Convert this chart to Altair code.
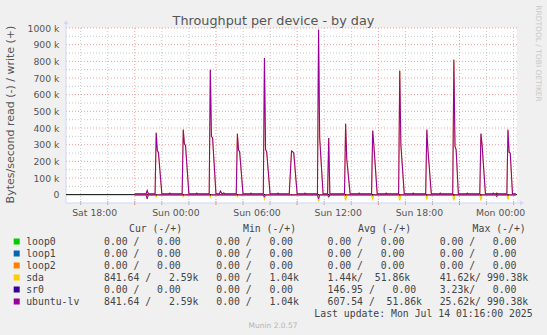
import altair as alt
import pandas as pd

DAY = {"Sat": "2025-07-12", "Sun": "2025-07-13", "Mon": "2025-07-14"}


def iso(s):
    d, hm = s.split()
    return f"{DAY[d]}T{hm}:00"


# ---------------- series data (k bytes/s) ----------------
# write traffic: ubuntu-lv and sda show the same write curve
write_times = [
    "Sat 21:00", "Sat 21:50", "Sat 21:55", "Sat 22:00",
    "Sat 22:30", "Sat 22:35", "Sat 22:40", "Sat 22:45", "Sat 23:00",
    "Sat 23:30", "Sat 23:35", "Sat 23:40",
    "Sun 00:30", "Sun 00:35", "Sun 00:40", "Sun 00:45", "Sun 01:00",
    "Sun 01:30", "Sun 01:35", "Sun 01:40",
    "Sun 02:30", "Sun 02:35", "Sun 02:40", "Sun 02:45", "Sun 03:00",
    "Sun 03:15", "Sun 03:20", "Sun 03:25", "Sun 03:30", "Sun 03:35", "Sun 03:40",
    "Sun 04:30", "Sun 04:35", "Sun 04:40", "Sun 04:45", "Sun 05:00",
    "Sun 05:30", "Sun 05:35", "Sun 05:40",
    "Sun 06:30", "Sun 06:35", "Sun 06:40", "Sun 06:45", "Sun 07:00",
    "Sun 07:30", "Sun 07:35", "Sun 07:40",
    "Sun 08:25", "Sun 08:35", "Sun 08:40", "Sun 08:45", "Sun 09:00",
    "Sun 09:30", "Sun 09:35", "Sun 09:40",
    "Sun 10:30", "Sun 10:35", "Sun 10:40", "Sun 10:55",
    "Sun 11:15", "Sun 11:20", "Sun 11:25",
    "Sun 12:30", "Sun 12:35", "Sun 12:40", "Sun 12:55",
    "Sun 13:30", "Sun 13:35", "Sun 13:40",
    "Sun 14:30", "Sun 14:35", "Sun 14:40", "Sun 14:55",
    "Sun 15:30", "Sun 15:35", "Sun 15:40",
    "Sun 16:30", "Sun 16:35", "Sun 16:40", "Sun 16:55",
    "Sun 17:30", "Sun 17:35", "Sun 17:40",
    "Sun 18:30", "Sun 18:35", "Sun 18:40", "Sun 18:55",
    "Sun 19:30", "Sun 19:35", "Sun 19:40",
    "Sun 20:30", "Sun 20:35", "Sun 20:40", "Sun 20:45", "Sun 20:55",
    "Sun 21:30", "Sun 21:35", "Sun 21:40",
    "Sun 22:30", "Sun 22:35", "Sun 22:40", "Sun 22:55",
    "Sun 23:25", "Sun 23:30", "Sun 23:35", "Sun 23:40", "Sun 23:45", "Sun 23:50",
    "Mon 00:30", "Mon 00:35", "Mon 00:40", "Mon 00:45", "Mon 00:55",
    "Mon 01:10",
]
write_k = [
    5, 5, 25, 5,
    5, 372, 265, 252, 5,
    5, 9, 5,
    5, 390, 305, 295, 5,
    5, 9, 5,
    5, 750, 350, 340, 5,
    5, 22, 8, 6, 10, 5,
    5, 366, 268, 258, 5,
    5, 9, 5,
    5, 820, 272, 255, 5,
    5, 9, 5,
    5, 262, 258, 250, 5,
    5, 9, 5,
    5, 990, 340, 5,
    5, 340, 5,
    5, 426, 215, 5,
    5, 9, 5,
    5, 384, 300, 5,
    5, 9, 5,
    5, 744, 300, 5,
    5, 9, 5,
    5, 390, 270, 5,
    5, 9, 5,
    5, 810, 290, 270, 5,
    5, 9, 5,
    5, 366, 300, 5,
    5, 9, 5, 5, 9, 5,
    5, 390, 255, 250, 5,
    5,
]

# read traffic (drawn below zero)
read_times = [
    "Sat 21:00", "Sat 21:50", "Sat 21:55", "Sat 22:00",
    "Sat 22:30", "Sat 22:35", "Sat 22:40",
    "Sun 00:30", "Sun 00:35", "Sun 00:40",
    "Sun 02:30", "Sun 02:35", "Sun 02:40",
    "Sun 04:30", "Sun 04:35", "Sun 04:40",
    "Sun 06:30", "Sun 06:35", "Sun 06:40",
    "Sun 08:30", "Sun 08:35", "Sun 08:40",
    "Sun 10:30", "Sun 10:35", "Sun 10:40",
    "Sun 11:15", "Sun 11:20", "Sun 11:25",
    "Sun 12:30", "Sun 12:35", "Sun 12:40",
    "Sun 14:30", "Sun 14:35", "Sun 14:40",
    "Sun 16:30", "Sun 16:35", "Sun 16:40",
    "Sun 18:30", "Sun 18:35", "Sun 18:40",
    "Sun 20:30", "Sun 20:35", "Sun 20:40",
    "Sun 22:30", "Sun 22:35", "Sun 22:40",
    "Sun 23:40", "Sun 23:45", "Sun 23:50",
    "Mon 00:30", "Mon 00:35", "Mon 00:40",
    "Mon 01:10",
]
sda_read_k = [
    1, 1, 20, 1,
    1, 12, 1,
    1, 12, 1,
    1, 15, 1,
    1, 12, 1,
    1, 25, 1,
    1, 6, 1,
    1, 41, 1,
    1, 15, 1,
    1, 35, 1,
    1, 25, 1,
    1, 35, 1,
    1, 30, 1,
    1, 35, 1,
    1, 35, 1,
    1, 12, 1,
    1, 30, 1,
    1,
]
ulv_read_k = [
    1, 1, 25, 1,
    1, 4, 1,
    1, 4, 1,
    1, 5, 1,
    1, 4, 1,
    1, 15, 1,
    1, 3, 1,
    1, 25, 1,
    1, 15, 1,
    1, 6, 1,
    1, 5, 1,
    1, 6, 1,
    1, 5, 1,
    1, 6, 1,
    1, 6, 1,
    1, 12, 1,
    1, 6, 1,
    1,
]
flat_times = ["Sat 21:00", "Mon 01:10"]
flat_k = [0, 0]

# ---------------- legend table ----------------
names = ["loop0", "loop1", "loop2", "sda", "sr0", "ubuntu-lv"]
colors = ["#00CC00", "#0066B3", "#FF8000", "#FFCC00", "#330099", "#990099"]
cur_read = ["0.00", "0.00", "0.00", "841.64", "0.00", "841.64"]
cur_write = ["0.00", "0.00", "0.00", "2.59k", "0.00", "2.59k"]
min_read = ["0.00", "0.00", "0.00", "0.00", "0.00", "0.00"]
min_write = ["0.00", "0.00", "0.00", "1.04k", "0.00", "1.04k"]
avg_read = ["0.00", "0.00", "0.00", "1.44k", "146.95", "607.54"]
avg_write = ["0.00", "0.00", "0.00", "51.86k", "0.00", "51.86k"]
max_read = ["0.00", "0.00", "0.00", "41.62k", "3.23k", "25.62k"]
max_write = ["0.00", "0.00", "0.00", "990.38k", "0.00", "990.38k"]
headers = ["Cur (-/+)", "Min (-/+)", "Avg (-/+)", "Max (-/+)"]

title_text = "Throughput per device - by day"
y_title = "Bytes/second read (-) / write (+)"
last_update = "Last update: Mon Jul 14 01:16:00 2025"
version_text = "Munin 2.0.57"
watermark = "RRDTOOL / TOBI OETIKER"

x_label_times = ["Sat 18:00", "Sun 00:00", "Sun 06:00", "Sun 12:00", "Sun 18:00", "Mon 00:00"]
major_grid_times = ["Sat 21:00", "Sun 03:00", "Sun 09:00", "Sun 15:00", "Sun 21:00"]
minor_grid_times = ["Sat 17:00", "Sat 19:00", "Sat 23:00", "Sun 01:00", "Sun 05:00", "Sun 07:00",
                    "Sun 11:00", "Sun 13:00", "Sun 17:00", "Sun 19:00", "Sun 23:00", "Mon 01:00"]
y_major = [100000 * i for i in range(1, 11)]
y_minor = [50000 + 100000 * i for i in range(0, 10)]
y_labels = [100000 * i for i in range(0, 11)]

# ---------------- layout ----------------
W, H = 451, 175
PL, PT, PR, PB = 66, 28, 30, 132
AXC = "#CFD6F8"
FONT = "DejaVu Sans"
MONO = "DejaVu Sans Mono"
TXT = "#555555"


def dt(s):
    d, hm = s.split()
    h, m = hm.split(":")
    return alt.DateTime(year=2025, month=7, date=int(DAY[d][-2:]), hours=int(h), minutes=int(m))


xscale = alt.Scale(type="time", domain=[dt("Sat 15:55"), dt("Mon 01:15")], nice=False)
yscale = alt.Scale(type="linear", domain=[-50000, 1000000], nice=False, zero=False)

xaxis = alt.Axis(values=[dt(s) for s in x_label_times], format="%a %H:%M", labelFont=FONT,
                 labelFontSize=9.3, labelColor=TXT, domain=False, ticks=False, grid=False,
                 labelPadding=5, title=None, labelFlush=False, labelOverlap=False)
yaxis = alt.Axis(values=y_labels, labelExpr="datum.value == 0 ? '0' : format(datum.value / 1000, 'd') + ' k'",
                 labelFont=FONT, labelFontSize=9.3, labelColor=TXT, domain=False, ticks=False,
                 grid=False, labelPadding=7, title=None)


def X(axis=None):
    return alt.X("t:T", scale=xscale, axis=axis)


def Y(axis=None):
    return alt.Y("v:Q", scale=yscale, axis=axis)


def series(times, vals, sign):
    return pd.DataFrame({"t": [iso(s) for s in times], "v": [sign * 1000 * v for v in vals]})


layers = []

# grid
layers.append(alt.Chart(pd.DataFrame({"t": [iso(s) for s in minor_grid_times]})).mark_rule(
    color="#C8C8C8", strokeWidth=1, strokeDash=[1, 2]).encode(x=X(), y=alt.value(0), y2=alt.value(H)))
layers.append(alt.Chart(pd.DataFrame({"v": y_minor})).mark_rule(
    color="#C8C8C8", strokeWidth=1, strokeDash=[1, 2]).encode(y=Y(), x=alt.value(0), x2=alt.value(W)))
layers.append(alt.Chart(pd.DataFrame({"t": [iso(s) for s in major_grid_times]})).mark_rule(
    color="#EFA0A0", strokeWidth=1, strokeDash=[1, 2]).encode(x=X(xaxis), y=alt.value(0), y2=alt.value(H)))
layers.append(alt.Chart(pd.DataFrame({"v": y_major})).mark_rule(
    color="#EFA0A0", strokeWidth=1, strokeDash=[1, 2]).encode(y=Y(yaxis), x=alt.value(0), x2=alt.value(W)))

# x-axis ticks
layers.append(alt.Chart(pd.DataFrame({"t": [iso(s) for s in minor_grid_times]})).mark_rule(
    color="#B0B0B0", strokeWidth=1).encode(x=X(), y=alt.value(H - 2), y2=alt.value(H + 2)))
layers.append(alt.Chart(pd.DataFrame({"t": [iso(s) for s in major_grid_times]})).mark_rule(
    color="#E08080", strokeWidth=1).encode(x=X(), y=alt.value(H - 2), y2=alt.value(H + 2)))

# axis lines and arrows
layers.append(alt.Chart(pd.DataFrame({"a": [0]})).mark_rule(color=AXC, strokeWidth=1).encode(
    x=alt.value(0), x2=alt.value(W + 4), y=alt.value(H)))
layers.append(alt.Chart(pd.DataFrame({"a": [0]})).mark_rule(color=AXC, strokeWidth=1).encode(
    x=alt.value(0), y=alt.value(H), y2=alt.value(-5)))
layers.append(alt.Chart(pd.DataFrame({"a": [0]})).mark_point(
    shape="triangle-up", filled=True, size=22, color=AXC, opacity=1).encode(x=alt.value(0), y=alt.value(-6)))
layers.append(alt.Chart(pd.DataFrame({"a": [0]})).mark_point(
    shape="triangle-right", filled=True, size=22, color=AXC, opacity=1).encode(x=alt.value(W + 5), y=alt.value(H)))

# zero-valued devices
for c in ["#00CC00", "#0066B3", "#FF8000", "#330099"]:
    layers.append(alt.Chart(series(flat_times, flat_k, 1)).mark_line(color=c, strokeWidth=1).encode(x=X(), y=Y()))

# zero line
layers.append(alt.Chart(pd.DataFrame({"v": [0]})).mark_rule(color="#000000", strokeWidth=1).encode(
    y=Y(), x=alt.value(0), x2=alt.value(W)))

# sda then ubuntu-lv
layers.append(alt.Chart(series(read_times, sda_read_k, -1)).mark_line(color="#FFCC00", strokeWidth=1.2).encode(x=X(), y=Y()))
layers.append(alt.Chart(series(write_times, write_k, 1)).mark_line(color="#FFCC00", strokeWidth=1).encode(x=X(), y=Y()))
layers.append(alt.Chart(series(read_times, ulv_read_k, -1)).mark_line(color="#990099", strokeWidth=1).encode(x=X(), y=Y()))
layers.append(alt.Chart(series(write_times, write_k, 1)).mark_line(color="#990099", strokeWidth=1.1, opacity=1).encode(x=X(), y=Y()))


# ---------------- texts ----------------
def txt_layer(df, **kw):
    return alt.Chart(df).mark_text(**kw).encode(
        x=alt.X("px:Q", scale=None, axis=None), y=alt.Y("py:Q", scale=None, axis=None), text="s:N")


def cell(r, w):
    rr = r if r.endswith("k") else r + " "
    ww = w if w.endswith("k") else w + " "
    return (rr.rjust(7) + "/" + ww.rjust(8)).replace(" ", "\u00a0")


row_y = [241.5 + 12 * i for i in range(6)]
cell_x = [104, 216.3, 327.6, 439.7]
header_x = [129, 243, 358, 472.6]
rows = []
for i, n in enumerate(names):
    rows.append((26.2, row_y[i], n))
    for cx, (rl, wl) in zip(cell_x, [(cur_read, cur_write), (min_read, min_write),
                                      (avg_read, avg_write), (max_read, max_write)]):
        rows.append((cx, row_y[i], cell(rl[i], wl[i])))
for hx, h in zip(header_x, headers):
    rows.append((hx, 229.0, h))
legend_df = pd.DataFrame({"px": [r[0] - PL for r in rows], "py": [r[1] - PT for r in rows],
                          "s": [r[2] for r in rows]})
layers.append(txt_layer(legend_df, font=MONO, fontSize=9.8, color="#444444", align="left", baseline="middle"))

sq_df = pd.DataFrame({"px": [16.7 - PL] * 6, "py": [y - PT for y in row_y], "c": colors})
layers.append(alt.Chart(sq_df).mark_square(size=36, filled=True, opacity=1).encode(
    x=alt.X("px:Q", scale=None, axis=None), y=alt.Y("py:Q", scale=None, axis=None),
    color=alt.Color("c:N", scale=None, legend=None)))

layers.append(txt_layer(pd.DataFrame({"px": [532.6 - PL], "py": [313.8 - PT], "s": [last_update]}),
                        font=MONO, fontSize=9.8, color="#444444", align="right", baseline="middle"))
layers.append(txt_layer(pd.DataFrame({"px": [273.5 - PL], "py": [25.0 - PT], "s": [title_text]}),
                        font=FONT, fontSize=12.8, color="#555555", align="center", baseline="alphabetic"))
layers.append(txt_layer(pd.DataFrame({"px": [10.5 - PL], "py": [114.5 - PT], "s": [y_title]}),
                        font=FONT, fontSize=11, color="#555555", align="center", baseline="middle", angle=270))
layers.append(txt_layer(pd.DataFrame({"px": [273.0 - PL], "py": [326.0 - PT], "s": [version_text]}),
                        font=FONT, fontSize=7.5, color="#B4B4B4", align="center", baseline="middle"))
layers.append(txt_layer(pd.DataFrame({"px": [538.0 - PL], "py": [53.5 - PT], "s": [watermark]}),
                        font=FONT, fontSize=7.5, color="#C8C8C8", align="center", baseline="middle", angle=90))

chart = alt.layer(*layers).resolve_scale(x="independent", y="independent").properties(
    width=W, height=H, autosize=alt.AutoSizeParams(type="none"),
    padding={"left": PL, "top": PT, "right": PR, "bottom": PB},
).configure(background="#F0F0F0").configure_view(stroke=None, fill="#FFFFFF")

chart.save("out.html", embed_options={"renderer": "svg", "actions": False})
